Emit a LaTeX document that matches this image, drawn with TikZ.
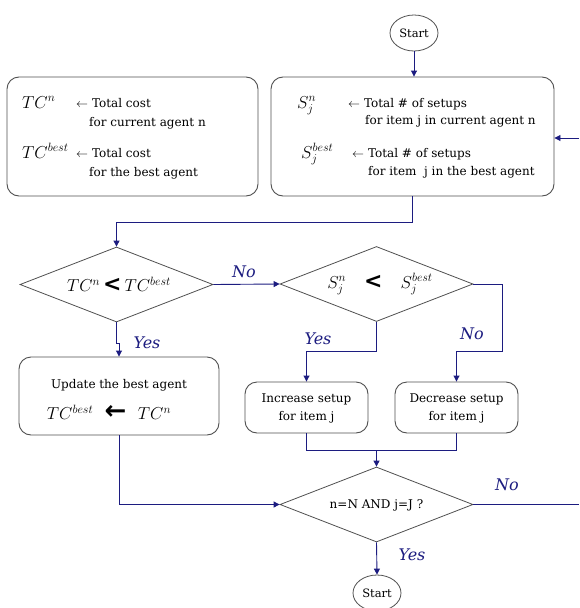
\documentclass[tikz,border=0pt]{standalone}
\usepackage{fontspec}
\setmainfont{DejaVu Serif}
\newfontfamily\symf{DejaVu Sans}
\usetikzlibrary{shapes.geometric,arrows.meta}
\definecolor{navy}{HTML}{1C1C80}
\definecolor{bord}{HTML}{505050}
\newcommand{\bigless}{{\symf\bfseries\fontsize{22}{22}\selectfont <}}
\newcommand{\bigarrowl}{{\symf\bfseries\fontsize{26}{26}\selectfont ←}}
\begin{document}
\begin{tikzpicture}[x=1pt,y=-1pt,
  conn/.style={draw=navy, line width=0.9pt},
  arr/.style={conn,-{Triangle[length=6pt,width=6pt]}},
  rbox/.style={draw=bord, line width=0.9pt, rounded corners=12pt, fill=white, inner sep=0pt},
  dia/.style={diamond, draw=bord, line width=0.8pt, minimum width=193pt, minimum height=75pt, inner sep=0pt, fill=white},
  oval/.style={ellipse, draw=bord, line width=0.8pt, minimum width=48pt, minimum height=36pt, inner sep=0pt, fill=white, font=\fontsize{11.5}{13}\selectfont},
  txt/.style={inner sep=0pt, anchor=base west, font=\fontsize{12}{14}\selectfont},
  ctxt/.style={inner sep=0pt, font=\fontsize{12}{18}\selectfont, align=center},
  mth/.style={inner sep=0pt, anchor=base west, font=\fontsize{18}{20}\selectfont},
  cmth/.style={inner sep=0pt, font=\fontsize{18}{20}\selectfont},
  lbl/.style={text=navy, font=\fontsize{16}{18}\selectfont\itshape, inner sep=0pt},
]
\useasboundingbox (0,0) rectangle (579,608);
\fill[white] (0,0) rectangle (579,608);

% shapes
\node[oval] (s1) at (414,33) {Start};
\node[rbox, minimum width=251pt, minimum height=119pt] (lb) at (132.5,136.5) {};
\node[rbox, minimum width=283pt, minimum height=119pt] (rb) at (412.5,136.5) {};
\node[dia] (d1) at (116.5,284.5) {};
\node[dia] (d2) at (376.5,284) {};
\node[rbox, minimum width=200pt, minimum height=78pt] (upd) at (119,396) {};
\node[rbox, minimum width=123pt, minimum height=51pt] (inc) at (306.5,407.5) {};
\node[rbox, minimum width=123pt, minimum height=51pt] (dec) at (456.5,407.5) {};
\node[dia] (d3) at (376.5,504.5) {};
\node[oval] (s2) at (377,593) {Start};

% legend texts
\node[mth] (tcn) at (22,108) {$TC^n$};
\node[txt] (tcna) at (76,107) {$\leftarrow$ Total cost};
\node[txt] (tcnb) at (89,126) {for current agent n};
\node[mth] (tcb) at (22,158) {$TC^{best}$};
\node[txt] (tcba) at (76,157) {$\leftarrow$ Total cost};
\node[txt] (tcbb) at (89,176) {for the best agent};

\node[mth] (sn) at (297,108) {$S_j^n$};
\node[txt] (sna) at (348,107) {$\leftarrow$ Total \# of setups};
\node[txt] (snb) at (365,124) {for item j in current agent n};
\node[mth] (sb) at (301,158) {$S_j^{best}$};
\node[txt] (sba) at (352,157) {$\leftarrow$ Total \# of setups};
\node[txt] (sbb) at (368,175) {for item\ \ j in the best agent};

% diamond texts
\node[cmth] (d1t) at (119,284) {$TC^n$\,\bigless\,$TC^{best}$};
\node[cmth] (d2t) at (380,284) {$S_j^n$\quad\bigless\quad$S_j^{best}$};
\node[ctxt] (d3t) at (376.5,505) {n=N AND j=J ?};

% box texts
\node[ctxt] (updt) at (119,385) {Update the best agent};
\node[cmth] (updm) at (109,412) {$TC^{best}$\ \ \bigarrowl\ \ $TC^n$};
\node[ctxt] (inct) at (306.5,408) {Increase setup\\for item j};
\node[ctxt] (dect) at (456.5,408) {Decrease setup\\for item j};

% connectors
\coordinate (jn) at (376.5,450);
\coordinate (outR) at (579,504.5);
\coordinate (inR) at (579,138);
\draw[arr] (s1.south) -- (s1.south |- rb.north);
\draw[arr] (inR) -- (inR -| rb.east);
\draw[arr] (rb.south) -- ++(0,26) -| (d1.north);
\draw[arr] (d1.east) -- (d2.west);
\draw[arr] (d1.south) -- ++(0,21) -| (upd.north);
\draw[arr] (d2.south) -- ++(0,30) -| (inc.north);
\draw[arr] (d2.east) -- ++(29,0) |- ([yshift=30pt]dec.north) -- (dec.north);
\draw[conn] (inc.south) |- (jn);
\draw[conn] (dec.south) |- (jn);
\draw[arr] (jn) -- (d3.north);
\draw[arr] (upd.south) |- (d3.west);
\draw[arr] (d3.south) -- (s2.north);
\draw[conn] (d3.east) -- (outR);

% labels
\node[lbl] (no1) at (244,272) {No};
\node[lbl] (yes1) at (147,343) {Yes};
\node[lbl] (yes2) at (318,339) {Yes};
\node[lbl] (no2) at (472,334) {No};
\node[lbl] (no3) at (507,485) {No};
\node[lbl] (yes3) at (412,555) {Yes};
\end{tikzpicture}
\end{document}
